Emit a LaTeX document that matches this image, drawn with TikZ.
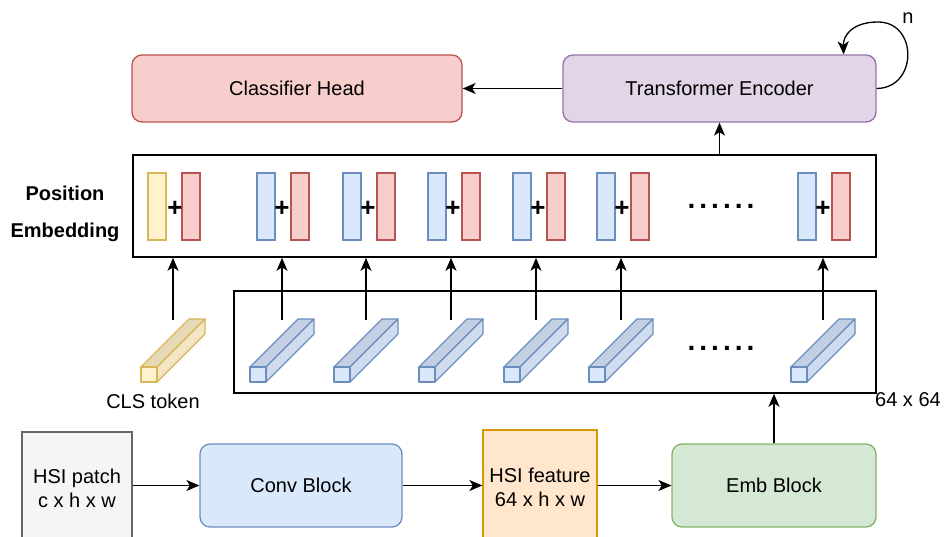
\documentclass[tikz,border=0pt]{standalone}
\usepackage{fontspec}
\setmainfont{Liberation Sans}
\usetikzlibrary{arrows.meta}
\definecolor{redF}{HTML}{F8CECC}\definecolor{redS}{HTML}{B85450}
\definecolor{purF}{HTML}{E1D5E7}\definecolor{purS}{HTML}{9673A6}
\definecolor{bluF}{HTML}{DAE8FC}\definecolor{bluS}{HTML}{6C8EBF}
\definecolor{bluT}{HTML}{C3D0E4}\definecolor{bluD}{HTML}{CFDCF0}
\definecolor{yelF}{HTML}{FFF2CC}\definecolor{yelS}{HTML}{D6B656}
\definecolor{yelT}{HTML}{E6D9B6}\definecolor{yelD}{HTML}{F1E5C3}
\definecolor{grF}{HTML}{F5F5F5}\definecolor{grS}{HTML}{666666}
\definecolor{orF}{HTML}{FFE6CC}\definecolor{orS}{HTML}{D79B00}
\definecolor{gnF}{HTML}{D5E8D4}\definecolor{gnS}{HTML}{82B366}
\tikzset{
  lbl/.style={font=\fontsize{20}{24}\selectfont, text=black},
  rbox/.style={draw, line width=1.3pt, rounded corners=10pt, lbl},
  sbox/.style={draw, line width=1.3pt, lbl, align=center},
  frame/.style={draw=black, line width=1.6pt},
  conn/.style={line width=1.3pt, -{Stealth[length=13pt,width=11pt,inset=3.5pt]}},
  bar/.style={draw, line width=1.3pt, minimum width=18pt, minimum height=67pt, inner sep=0pt},
  plus/.style={font=\fontsize{26}{26}\selectfont\bfseries, inner sep=0pt},
  dots/.style={font=\fontsize{28}{28}\selectfont\bfseries, inner sep=0pt},
}
\newcommand{\cubo}[7]{% x, ytop, front, top, side, stroke, name
  \begin{scope}[draw=#6, line width=1.1pt, line join=round]
  \filldraw[fill=#4] (#1,#2) -- (#1+16,#2) -- (#1+64,#2-48) -- (#1+48,#2-48) -- cycle;
  \filldraw[fill=#5] (#1+16,#2) -- (#1+16,#2+15) -- (#1+64,#2-33) -- (#1+64,#2-48) -- cycle;
  \filldraw[fill=#3] (#1,#2) rectangle (#1+16,#2+15);
  \end{scope}
  \coordinate (#7) at (#1+32,320);
}
\begin{document}
\begin{tikzpicture}[x=1pt,y=-1pt]
\useasboundingbox (0,0) rectangle (947,537);
\clip (0,0) rectangle (947,537);
% top row
\node[rbox, fill=redF, draw=redS, minimum width=330pt, minimum height=67pt] (head) at (297,88.5) {Classifier Head};
\node[rbox, fill=purF, draw=purS, minimum width=313pt, minimum height=67pt] (trans) at (719.5,88.5) {Transformer Encoder};
% frames
\node[frame, minimum width=743pt, minimum height=102pt, inner sep=0pt] (pe) at (504.5,206) {};
\node[frame, minimum width=642pt, minimum height=102pt, inner sep=0pt] (low) at (555,342) {};
\node[lbl, font=\fontsize{20}{37}\selectfont\bfseries, align=center] (pelbl) at (65,213.5) {Position\\Embedding};
% bars
\node[bar, fill=yelF, draw=yelS] (b0) at (157,206.5) {};
\node[bar, fill=redF, draw=redS] (r0) at (191,206.5) {};
\node[plus] (p0) at (175,209) {+};
\foreach \i/\x in {1/257,2/343,3/428,4/513,5/597,6/798}{
  \node[bar, fill=bluF, draw=bluS] (b\i) at (\x+9,206.5) {};
  \node[bar, fill=redF, draw=redS] (r\i) at (\x+43,206.5) {};
  \node[plus] (p\i) at (\x+25,209) {+};
}
\node[dots] (d1) at (721,206) {.\kern4pt.\kern4pt.\kern4pt.\kern4pt.\kern4pt.};
% cuboids
\cubo{141}{367}{yelF}{yelT}{yelD}{yelS}{c0}
\foreach \i/\x in {1/250,2/334,3/419,4/504,5/589,6/791}{
  \cubo{\x}{367}{bluF}{bluT}{bluD}{bluS}{c\i}
}
\node[dots] (d2) at (721,348) {.\kern4pt.\kern4pt.\kern4pt.\kern4pt.\kern4pt.};
\node[lbl] (clsl) at (153,401) {CLS token};
\node[lbl] (dim) at (908,400) {64 x 64};
% arrows from tokens to PE
\foreach \i in {0,...,6}{
  \draw[conn] (c\i) -- (c\i |- pe.south);
}
\draw[conn] (pe.north -| trans.south) -- (trans.south);
\draw[conn] (trans.west) -- (head.east);
% loop
\coordinate (loopin) at ([xshift=-33pt]trans.north east);
\draw[conn] (trans.east) .. controls (918,88) and (918,22) .. (878,22) .. controls (852,22) and (843,36) .. (loopin);
\node[lbl] (nl) at (908,18) {n};
% bottom row
\node[sbox, fill=grF, draw=grS, minimum width=110pt, minimum height=112pt] (patch) at (77,488) {HSI patch\\c x h x w};
\node[rbox, fill=bluF, draw=bluS, minimum width=202pt, minimum height=83pt] (conv) at (301,485.5) {Conv Block};
\node[sbox, fill=orF, draw=orS, minimum width=114pt, minimum height=114pt] (feat) at (540,487) {HSI feature\\64 x h x w};
\node[rbox, fill=gnF, draw=gnS, minimum width=204pt, minimum height=83pt] (emb) at (774,485.5) {Emb Block};
\draw[conn] (patch.east |- conv.west) -- (conv.west);
\draw[conn] (conv.east) -- (conv.east -| feat.west);
\draw[conn] (feat.east |- emb.west) -- (emb.west);
\draw[conn] (emb.north) -- (emb.north |- low.south);
\end{tikzpicture}
\end{document}
